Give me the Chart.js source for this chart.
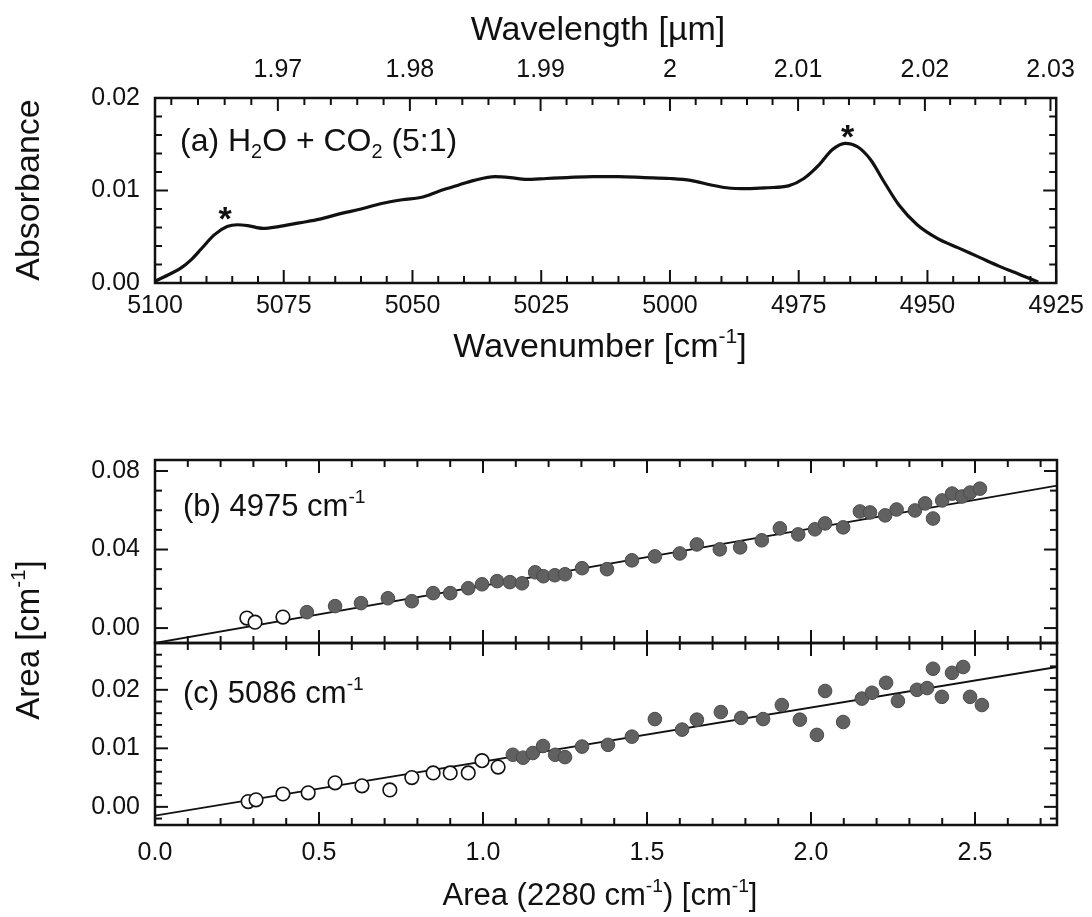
<!DOCTYPE html>
<html>
<head>
<meta charset="utf-8">
<script src="https://cdn.jsdelivr.net/npm/chart.js@4.4.1/dist/chart.umd.min.js"></script>
<style>
html, body { margin: 0; padding: 0; background: #fff; }
#wrap { position: relative; width: 1092px; height: 917px; }
#wrap canvas { position: absolute; left: 0; top: 0; }
</style>
</head>
<body>
<div id="wrap">
  <canvas id="ca" width="1092" height="917"></canvas>
  <canvas id="cb" width="1092" height="917"></canvas>
  <canvas id="cc" width="1092" height="917"></canvas>
</div>
<script>
// ---- panel (a): absorbance spectrum, H2O + CO2 (5:1)
const wavenumbers = [5100, 5097, 5095, 5093, 5091, 5088.5, 5086, 5084, 5082, 5079, 5076, 5072, 5068, 5064, 5060,
  5056, 5052, 5048, 5045, 5041, 5038, 5034, 5031, 5028, 5024, 5020, 5015, 5010, 5005, 5000, 4996, 4992, 4989,
  4985, 4981, 4977, 4974, 4971, 4968.5, 4966, 4963.5, 4961, 4958.5, 4955.5, 4952, 4948, 4944, 4940, 4936, 4932, 4928.5];
const absorbance = [0.0002, 0.0010, 0.0016, 0.0025, 0.0037, 0.0052, 0.0061, 0.0063, 0.0062, 0.0059, 0.0061, 0.0065,
  0.0069, 0.0075, 0.0080, 0.0086, 0.0090, 0.0093, 0.0099, 0.0106, 0.0111, 0.0115, 0.0114, 0.0112, 0.0113, 0.0114,
  0.0115, 0.0115, 0.0114, 0.0113, 0.0111, 0.0106, 0.0103, 0.0102, 0.0103, 0.0105, 0.0113, 0.0128, 0.0144, 0.0151,
  0.0147, 0.0133, 0.0110, 0.0084, 0.0063, 0.0048, 0.0038, 0.0028, 0.0018, 0.0009, 0.0001];
const wnTicks = [5100, 5075, 5050, 5025, 5000, 4975, 4950, 4925];
const wlTicks = [1.97, 1.98, 1.99, 2.00, 2.01, 2.02, 2.03];
const wlLabels = ['1.97', '1.98', '1.99', '2', '2.01', '2.02', '2.03'];
const absTicks = [0, 0.01, 0.02];
const starWn = [5086.4, 4965.5];
const starAbs = [0.0078, 0.0166];

// ---- panel (b): 4975 cm-1 band area vs 2280 cm-1 area
const bOpenX = [0.28, 0.305, 0.39];
const bOpenY = [0.0051, 0.0030, 0.0056];
const bFillX = [0.463, 0.549, 0.628, 0.71, 0.783, 0.848, 0.90, 0.955, 0.997, 1.043, 1.082, 1.119, 1.159, 1.184,
  1.219, 1.25, 1.302, 1.378, 1.454, 1.524, 1.60, 1.652, 1.722, 1.784, 1.85, 1.905, 1.961, 2.012, 2.043, 2.098,
  2.149, 2.18, 2.226, 2.261, 2.317, 2.348, 2.372, 2.40, 2.43, 2.46, 2.485, 2.515];
const bFillY = [0.0081, 0.0112, 0.0127, 0.0152, 0.0137, 0.0178, 0.0178, 0.0203, 0.0223, 0.0239, 0.0234, 0.0228,
  0.0284, 0.0264, 0.0269, 0.0274, 0.0305, 0.0300, 0.0345, 0.0365, 0.0380, 0.0426, 0.0401, 0.0411, 0.0447, 0.0508,
  0.0477, 0.0503, 0.0533, 0.0513, 0.0594, 0.0589, 0.0574, 0.0604, 0.0599, 0.0635, 0.0558, 0.0650, 0.0685, 0.0670,
  0.0690, 0.0710];
const bFitX = [0, 2.75];
const bFitY = [-0.0076, 0.0726];
const bTicks = [0, 0.04, 0.08];

// ---- panel (c): 5086 cm-1 band area vs 2280 cm-1 area
const cOpenX = [0.284, 0.308, 0.39, 0.467, 0.549, 0.631, 0.716, 0.783, 0.848, 0.90, 0.955, 0.997, 1.046];
const cOpenY = [0.0009, 0.0012, 0.0022, 0.0024, 0.0041, 0.0036, 0.0029, 0.0050, 0.0058, 0.0058, 0.0058, 0.0079, 0.0068];
const cFillX = [1.091, 1.122, 1.152, 1.183, 1.22, 1.25, 1.302, 1.381, 1.454, 1.524, 1.607, 1.652, 1.725, 1.787,
  1.854, 1.911, 1.966, 2.018, 2.043, 2.098, 2.155, 2.186, 2.229, 2.265, 2.323, 2.354, 2.372, 2.399, 2.43, 2.464,
  2.485, 2.521];
const cFillY = [0.0089, 0.0084, 0.0092, 0.0104, 0.0089, 0.0085, 0.0103, 0.0106, 0.0120, 0.0150, 0.0132, 0.0149,
  0.0162, 0.0152, 0.0150, 0.0174, 0.0149, 0.0123, 0.0198, 0.0145, 0.0185, 0.0195, 0.0212, 0.0181, 0.0200, 0.0203,
  0.0236, 0.0188, 0.0229, 0.0239, 0.0188, 0.0174];
const cFitX = [0, 2.75];
const cFitY = [-0.0015, 0.0239];
const cTicks = [0, 0.01, 0.02];
const areaTicks = [0, 0.5, 1.0, 1.5, 2.0, 2.5];

const INK = '#111';
const FONT = "'Liberation Sans', Arial, Helvetica, sans-serif";
const TICK_SIZE = 25;

function pts(xs, ys) { return xs.map((x, i) => ({ x, y: ys[i] })); }

// minor/major tick ladder for the inward frame ticks
function ladder(lo, hi, step, major) {
  const out = [];
  const n = Math.round((hi - lo) / step);
  for (let i = 0; i <= n; i++) {
    const v = lo + i * step;
    const r = v / major;
    out.push({ v, major: Math.abs(r - Math.round(r)) < 1e-6 });
  }
  return out;
}

// text with ^{sup} and _{sub} parts
function drawRich(ctx, str, x, y, size, align, rot) {
  const parts = str.split(/(\^\{[^}]*\}|_\{[^}]*\})/).filter(s => s).map(s => {
    if (s.startsWith('^{')) return { t: s.slice(2, -1), sup: true };
    if (s.startsWith('_{')) return { t: s.slice(2, -1), sub: true };
    return { t: s };
  });
  ctx.save();
  ctx.translate(x, y);
  if (rot) ctx.rotate(rot);
  const fontOf = s => `${s}px ${FONT}`;
  const pieces = parts.map(p => {
    const s = (p.sup || p.sub) ? size * 0.62 : size;
    ctx.font = fontOf(s);
    return Object.assign({}, p, { s, w: ctx.measureText(p.t).width });
  });
  const total = pieces.reduce((a, p) => a + p.w, 0);
  let cx = align === 'center' ? -total / 2 : 0;
  ctx.fillStyle = INK;
  ctx.textAlign = 'left';
  ctx.textBaseline = 'alphabetic';
  for (const p of pieces) {
    ctx.font = fontOf(p.s);
    const dy = p.sup ? -size * 0.42 : (p.sub ? size * 0.22 : 0);
    ctx.fillText(p.t, cx, dy);
    cx += p.w;
  }
  ctx.restore();
}

function makeFrame(spec) {
  return {
    id: 'frame',
    afterDatasetsDraw(chart) {
      const { ctx, chartArea: a } = chart;
      const xs = chart.scales.x, ys = chart.scales.y;
      const seg = (x1, y1, x2, y2) => { ctx.beginPath(); ctx.moveTo(x1, y1); ctx.lineTo(x2, y2); ctx.stroke(); };
      const len = t => t.major ? 13 : 7;
      ctx.save();
      ctx.strokeStyle = INK;
      ctx.lineWidth = 2;
      for (const t of spec.bottom) { const p = xs.getPixelForValue(t.v); seg(p, a.bottom, p, a.bottom - len(t)); }
      for (const t of spec.top) {
        const p = xs.getPixelForValue(spec.topConv ? spec.topConv(t.v) : t.v);
        seg(p, a.top, p, a.top + len(t));
      }
      for (const t of spec.side) {
        const p = ys.getPixelForValue(t.v);
        seg(a.left, p, a.left + len(t), p);
        seg(a.right, p, a.right - len(t), p);
      }
      ctx.lineWidth = 2.5;
      ctx.strokeRect(a.left, a.top, a.right - a.left, a.bottom - a.top);
      ctx.restore();
    }
  };
}

function makeNotes(texts, stars) {
  return {
    id: 'notes',
    afterDraw(chart) {
      const ctx = chart.ctx;
      for (const t of texts) drawRich(ctx, t.s, t.x, t.y, t.size, t.align, t.rot);
      if (stars) {
        ctx.save();
        ctx.fillStyle = INK;
        ctx.font = `bold 34px ${FONT}`;
        ctx.textAlign = 'center';
        ctx.textBaseline = 'alphabetic';
        stars.x.forEach((w, i) => {
          const px = chart.scales.x.getPixelForValue(w);
          const py = chart.scales.y.getPixelForValue(stars.y[i]);
          ctx.fillText('*', px, py + 19);
        });
        ctx.restore();
      }
    }
  };
}

function yAxis(min, max, ticksArr) {
  return {
    type: 'linear', min, max, position: 'left',
    afterBuildTicks: s => { s.ticks = ticksArr.map(v => ({ value: v })); },
    afterFit: s => { s.width = 155; },
    grid: { display: false, drawTicks: false },
    border: { display: false },
    ticks: { padding: 15, color: INK, font: { family: FONT, size: TICK_SIZE }, callback: v => v.toFixed(2) }
  };
}

const baseOpts = {
  responsive: false,
  animation: false,
  events: [],
  plugins: { legend: { display: false }, tooltip: { enabled: false } }
};

// ---------- chart (a)
new Chart(document.getElementById('ca'), {
  type: 'line',
  data: {
    datasets: [{
      data: pts(wavenumbers, absorbance),
      borderColor: INK, borderWidth: 3.2, pointRadius: 0,
      cubicInterpolationMode: 'monotone', fill: false
    }]
  },
  options: Object.assign({}, baseOpts, {
    layout: { padding: { left: 0, right: 35, top: 0, bottom: 0 } },
    scales: {
      x: {
        type: 'linear', reverse: true, min: 4925, max: 5100, position: 'bottom',
        afterBuildTicks: s => { s.ticks = wnTicks.map(v => ({ value: v })); },
        afterFit: s => { s.height = 917 - 283; },
        grid: { display: false, drawTicks: false }, border: { display: false },
        ticks: { padding: 8, maxRotation: 0, autoSkip: false, color: INK,
          font: { family: FONT, size: TICK_SIZE }, callback: v => String(v) }
      },
      x2: {
        type: 'linear', reverse: true, min: 4925, max: 5100, position: 'top',
        afterBuildTicks: s => { s.ticks = wlTicks.map(l => ({ value: 1e4 / l })); },
        afterFit: s => { s.height = 98; },
        grid: { display: false, drawTicks: false }, border: { display: false },
        ticks: { padding: 13, maxRotation: 0, autoSkip: false, color: INK,
          font: { family: FONT, size: TICK_SIZE }, callback: (v, i) => wlLabels[i] }
      },
      y: yAxis(0, 0.02, absTicks)
    }
  }),
  plugins: [
    makeFrame({
      bottom: ladder(4925, 5100, 5, 25),
      top: ladder(1.962, 2.030, 0.002, 0.01), topConv: l => 1e4 / l,
      side: ladder(0, 0.02, 0.002, 0.01)
    }),
    makeNotes([
      { s: 'Wavelength [\u00b5m]', x: 598, y: 40, size: 34, align: 'center' },
      { s: 'Wavenumber [cm^{-1}]', x: 600, y: 357, size: 34, align: 'center' },
      { s: 'Absorbance', x: 39, y: 190, size: 34, align: 'center', rot: -Math.PI / 2 },
      { s: '(a) H_{2}O + CO_{2} (5:1)', x: 180, y: 151, size: 32, align: 'left' }
    ], { x: starWn, y: starAbs })
  ]
});

function scatterSets(openX, openY, fillX, fillY, fitX, fitY) {
  return [
    { type: 'line', data: pts(fitX, fitY), borderColor: INK, borderWidth: 1.8, pointRadius: 0, order: 3 },
    { type: 'scatter', data: pts(openX, openY), pointRadius: 6.8, pointBackgroundColor: '#fff',
      pointBorderColor: INK, pointBorderWidth: 1.6, order: 1 },
    { type: 'scatter', data: pts(fillX, fillY), pointRadius: 6.8, pointBackgroundColor: '#616161',
      pointBorderColor: '#4a4a4a', pointBorderWidth: 1, order: 1 }
  ];
}

const areaSide = { bottom: ladder(0, 2.7, 0.1, 0.5), top: ladder(0, 2.7, 0.1, 0.5) };

// ---------- chart (b)
new Chart(document.getElementById('cb'), {
  type: 'scatter',
  data: { datasets: scatterSets(bOpenX, bOpenY, bFillX, bFillY, bFitX, bFitY) },
  options: Object.assign({}, baseOpts, {
    layout: { padding: { left: 0, right: 35, top: 460, bottom: 917 - 643 } },
    scales: {
      x: { type: 'linear', min: 0, max: 2.75, display: false },
      y: yAxis(-0.0076, 0.0856, bTicks)
    }
  }),
  plugins: [
    makeFrame(Object.assign({ side: ladder(0, 0.08, 0.01, 0.04) }, areaSide)),
    makeNotes([
      { s: '(b) 4975 cm^{-1}', x: 183, y: 516, size: 31, align: 'left' },
      { s: 'Area [cm^{-1}]', x: 39, y: 640, size: 33, align: 'center', rot: -Math.PI / 2 }
    ])
  ]
});

// ---------- chart (c)
new Chart(document.getElementById('cc'), {
  type: 'scatter',
  data: { datasets: scatterSets(cOpenX, cOpenY, cFillX, cFillY, cFitX, cFitY) },
  options: Object.assign({}, baseOpts, {
    layout: { padding: { left: 0, right: 35, top: 643, bottom: 0 } },
    scales: {
      x: {
        type: 'linear', min: 0, max: 2.75, position: 'bottom',
        afterBuildTicks: s => { s.ticks = areaTicks.map(v => ({ value: v })); },
        afterFit: s => { s.height = 917 - 825; },
        grid: { display: false, drawTicks: false }, border: { display: false },
        ticks: { padding: 13, maxRotation: 0, autoSkip: false, color: INK,
          font: { family: FONT, size: TICK_SIZE }, callback: v => v.toFixed(1) }
      },
      y: yAxis(-0.0031, 0.028, cTicks)
    }
  }),
  plugins: [
    makeFrame(Object.assign({ side: ladder(-0.002, 0.028, 0.002, 0.01) }, areaSide)),
    makeNotes([
      { s: '(c) 5086 cm^{-1}', x: 183, y: 703, size: 31, align: 'left' },
      { s: 'Area (2280 cm^{-1}) [cm^{-1}]', x: 600, y: 905, size: 31, align: 'center' }
    ])
  ]
});
</script>
</body>
</html>
